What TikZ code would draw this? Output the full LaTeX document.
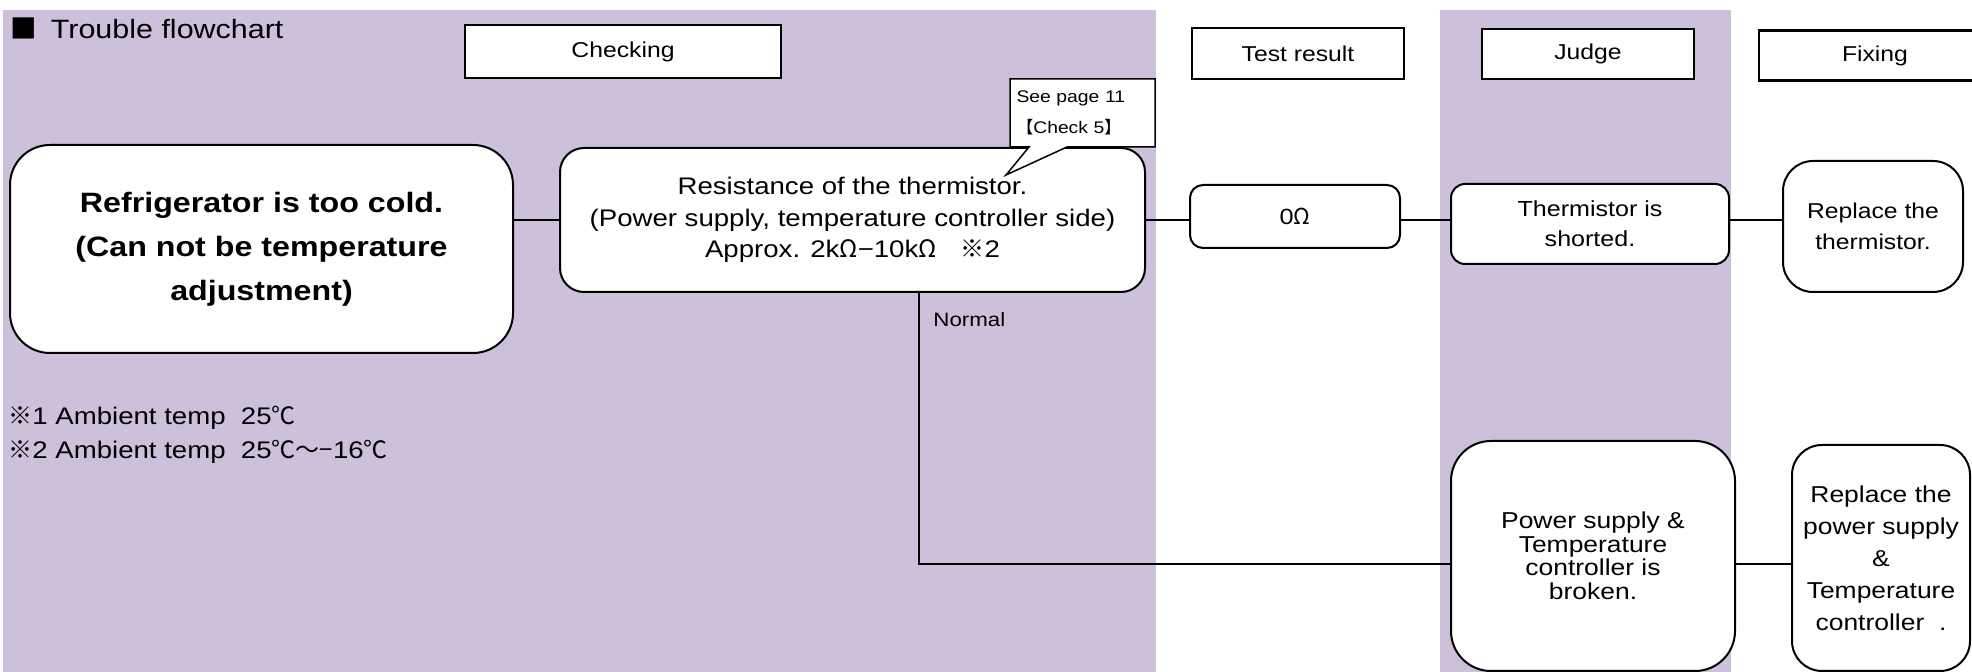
\documentclass[tikz,border=0pt]{standalone}
\usepackage{fontspec}
\setmainfont{Liberation Sans}[FakeStretch=1.15]
\newfontfamily\cjk{Noto Sans CJK JP}
\usetikzlibrary{shapes.callouts}
\definecolor{lane}{HTML}{CCC0DA}
\newcommand\fsz[2]{\fontsize{#1}{#2}\selectfont}

\begin{document}
\begin{tikzpicture}[x=0.5pt,y=-0.5pt,
  every node/.style={inner sep=0pt},
  hdr/.style={draw, line width=1.2pt, fill=white, font={\fsz{10.75}{13}}},
  card/.style={draw, line width=1pt, fill=white, rounded corners=#1, align=center},
  card/.default=10pt,
  conn/.style={line width=0.75pt}]

\useasboundingbox (0,0) rectangle (1972,672);

% shaded lanes
\fill[lane] (3,10) rectangle (1156,672);
\fill[lane] (1440,10) rectangle (1731,672);

% title
\node[anchor=west, font={\fsz{13.25}{15}}] (title) at (10,28) {{\cjk ■}\hspace{7pt}Trouble flowchart};

% column headers
\node[hdr, minimum width=158pt, minimum height=26.5pt] (hcheck) at (623,51.5) {Checking};
\node[hdr, minimum width=106pt, minimum height=25.5pt] (htest) at (1298,53.5) {Test result};
\node[hdr, minimum width=106pt, minimum height=25pt] (hjudge) at (1588,54) {Judge};
\node[hdr, minimum width=116pt, minimum height=25pt] (hfix) at (1875,55.5) {Fixing};

% symptom
\node[card=20pt, minimum width=251.5pt, minimum height=104pt, font={\bfseries\fsz{14}{22}}] (refr) at (261.5,249)
  {Refrigerator is too cold.\\(Can not be temperature\\adjustment)};

% check
\node[card=12pt, minimum width=292.5pt, minimum height=72pt, font={\fsz{12}{15.75}}] (resist) at (852.5,220)
  {Resistance of the thermistor.\\(Power supply, temperature controller side)\\Approx. 2k{\cjk Ω}−10k{\cjk Ω}\quad{\cjk ※}2};

% reference callout
\node[draw, line width=0.75pt, fill=white, rectangle callout, callout absolute pointer={(1006,175)},
  callout pointer width=19pt, minimum width=72.5pt, minimum height=34pt, text width=66pt, align=left,
  font={\fsz{8.4}{15.5}}] (see) at (1082.5,113) {See page 11\\{\cjk 【}Check 5{\cjk 】}};

% results, judgements, fixes
\node[card=6.5pt, minimum width=105pt, minimum height=31.5pt, font={\fsz{11}{14}}] (zero) at (1295,216.5) {0{\cjk Ω}};
\node[card=7pt, minimum width=139pt, minimum height=40pt, font={\fsz{10.9}{15}}] (short) at (1590,224) {Thermistor is\\shorted.};
\node[card=15pt, minimum width=90pt, minimum height=65.5pt, font={\fsz{10.75}{15.75}}] (repth) at (1873,226.5) {Replace the\\thermistor.};
\node[card=20pt, minimum width=142pt, minimum height=115pt, font={\fsz{11.5}{11.75}}] (power) at (1593,556)
  {Power supply \&\\Temperature\\controller is\\broken.};
\node[card=15pt, minimum width=89pt, minimum height=113pt, font={\fsz{11.5}{16}}] (reppow) at (1881,558)
  {Replace the\\power supply\\\&\\Temperature\\controller\ \ .};

\node[anchor=west, font={\fsz{9.7}{12}}] (normal) at (933,320) {Normal};

% notes
\node[anchor=base west, font={\fsz{12}{14}}] (note1) at (8,425) {{\cjk ※}1 Ambient temp\ \ 25{\cjk ℃}};
\node[anchor=base west, font={\fsz{12}{14}}] (note2) at (8,459) {{\cjk ※}2 Ambient temp\ \ 25{\cjk ℃〜−}16{\cjk ℃}};

% connectors
\coordinate (knee) at (919,564);
\draw[conn] (refr.east |- resist.west) -- (resist.west);
\draw[conn] (resist.east) -- (zero.west |- resist.east);
\draw[conn] (zero.east |- resist.east) -- (short.west |- resist.east);
\draw[conn] (short.east |- resist.east) -- (repth.west |- resist.east);
\draw[conn] (resist.south -| knee) -- (knee) -- (power.west |- knee);
\draw[conn] (power.east |- knee) -- (reppow.west |- knee);
\end{tikzpicture}
\end{document}
